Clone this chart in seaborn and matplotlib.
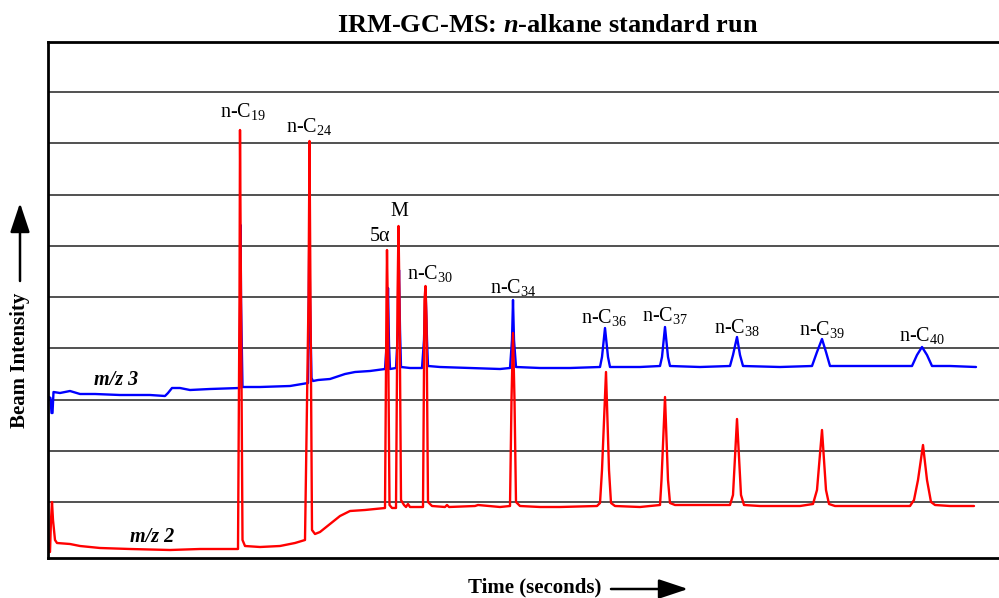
import numpy as np
import pandas as pd
import matplotlib
matplotlib.use("Agg")
import matplotlib.pyplot as plt
import seaborn as sns

# ---------------- data (time in arbitrary units, intensity in arbitrary units) -------------
red_time = [49, 50, 51, 52, 53, 55, 57, 70, 80, 100, 130, 170, 200, 238, 239.5, 240, 241, 242.5,
            245, 260, 280, 295, 305, 308.5, 309.5, 310.5, 312, 315, 320, 330, 340, 350, 365, 385,
            386.5, 387, 388, 389.5, 392, 396, 397.5, 398.5, 399.5, 401, 404, 406, 408, 410, 415,
            423, 424.5, 425.5, 426.5, 428, 432, 445, 447, 449, 475, 478, 500, 510, 511.5, 513,
            514.5, 516, 520, 540, 560, 597, 600, 602, 606, 609, 611, 615, 640, 660, 661.5, 665,
            668, 670, 675, 700, 730, 733, 737, 741, 744, 760, 800, 813, 817, 822, 826, 829, 835,
            870, 910, 914, 918, 923, 927, 931, 935, 950, 974]
red_int = [6, 6, 38, 56, 38, 18, 15, 14, 12, 10, 9, 8, 9, 9, 258, 428, 258, 18,
           12, 11, 12, 15, 18, 258, 417, 258, 28, 24, 26, 34, 42, 47, 48, 50,
           258, 308, 238, 53, 50, 50, 258, 332, 258, 58, 53, 51, 54, 51, 51,
           51, 258, 272, 238, 56, 52, 51, 53, 51, 52, 53, 51, 52, 158, 225,
           158, 56, 52, 51, 51, 52, 55, 88, 186, 88, 55, 52, 51, 53, 78, 161,
           78, 55, 53, 53, 53, 63, 139, 63, 53, 52, 52, 54, 68, 128, 68, 54, 52,
           52, 52, 58, 78, 113, 78, 56, 53, 52, 52]

blue_time = [49, 50.5, 51.5, 52.5, 53.5, 60, 70, 80, 95, 120, 150, 165, 168, 172, 180, 190, 210,
             239.5, 240.2, 240.6, 241, 242.5, 260, 290, 308, 308.8, 309.4, 310, 311.5, 313, 318, 330,
             345, 355, 370, 385, 387, 388, 389, 390, 396, 398, 399, 400, 401, 410, 422, 424,
             425.5, 427, 428, 440, 470, 500, 510, 512, 513, 514, 516, 540, 570, 600, 602, 605,
             608, 610, 640, 660, 662, 665, 668, 670, 700, 730, 733, 737, 740, 743, 780, 812,
             817, 822, 826, 830, 870, 912, 917, 922, 927, 932, 950, 976]
blue_int = [161, 160, 145, 145, 166, 165, 167, 164, 164, 163, 163, 162, 165, 170, 170, 168, 169,
            170, 258, 333, 258, 171, 171, 172, 175, 258, 340, 258, 180, 177, 178, 179,
            184, 186, 187, 189, 218, 270, 213, 189, 190, 228, 288, 228, 191, 190, 190, 218,
            271, 218, 192, 191, 190, 189, 190, 218, 258, 218, 191, 190, 190, 191, 201, 230,
            201, 191, 191, 192, 201, 231, 201, 192, 191, 192, 203, 221, 203, 192, 191, 192,
            206, 219, 206, 192, 192, 192, 203, 211, 203, 192, 192, 191]

peak_labels = ["n-C$_{\\mathrm{19}}$", "n-C$_{\\mathrm{24}}$", "M", "5\u03b1", "n-C$_{\\mathrm{30}}$",
               "n-C$_{\\mathrm{34}}$", "n-C$_{\\mathrm{36}}$", "n-C$_{\\mathrm{37}}$",
               "n-C$_{\\mathrm{38}}$", "n-C$_{\\mathrm{39}}$", "n-C$_{\\mathrm{40}}$"]
label_time = [243, 309, 399, 380, 430, 513, 604, 665, 737, 822, 922]
label_int = [441, 426, 342, 317, 279, 265, 235, 237, 225, 223, 217]

trace_names = ["m/z 2", "m/z 3"]
trace_label_time = [152, 116]
trace_label_int = [16, 173]

# ---------------- styling -----------------
sns.set_theme(style="white")
plt.rcParams["font.family"] = ["Liberation Serif", "DejaVu Serif"]
plt.rcParams["mathtext.fontset"] = "custom"
plt.rcParams["mathtext.rm"] = "Liberation Serif"
plt.rcParams["mathtext.it"] = "Liberation Serif:bold:italic"
plt.rcParams["mathtext.bf"] = "Liberation Serif:bold"
plt.rcParams["text.color"] = "black"

df = pd.concat([
    pd.DataFrame({"time": red_time, "intensity": red_int, "trace": "m/z 2"}),
    pd.DataFrame({"time": blue_time, "intensity": blue_int, "trace": "m/z 3"}),
])

W, H = 999, 598
fig = plt.figure(figsize=(W / 100, H / 100), dpi=100)
ax = fig.add_axes([48 / W, (H - 558) / H, (1003 - 48) / W, (558 - 42) / H])

sns.lineplot(data=df[df.trace == "m/z 3"], x="time", y="intensity", color="#0000ff",
             lw=1.7, estimator=None, sort=False, ax=ax, legend=False)
sns.lineplot(data=df[df.trace == "m/z 2"], x="time", y="intensity", color="#ff0000",
             lw=1.7, estimator=None, sort=False, ax=ax, legend=False)

ax.set_xlim(48, 1003)
ax.set_ylim(0, 516)
ax.set_yticks(np.linspace(56, 466, 9))
ax.set_xticks([])
ax.grid(axis="y", color="#222222", lw=1.1)
ax.grid(axis="x", visible=False)
ax.set_axisbelow(True)
ax.tick_params(length=0, labelleft=False, labelbottom=False)
ax.set_xlabel("")
ax.set_ylabel("")
for s in ["left", "top", "bottom"]:
    ax.spines[s].set_visible(True)
    ax.spines[s].set_color("black")
    ax.spines[s].set_linewidth(2)
ax.spines["right"].set_visible(False)

for t, x, y in zip(peak_labels, label_time, label_int):
    ax.text(x, y, t, ha="center", va="baseline", fontsize=14.5, color="black")

for t, x, y in zip(trace_names, trace_label_time, trace_label_int):
    ax.text(x, y, t, ha="center", va="baseline", fontsize=14.5, fontweight="bold",
            fontstyle="italic", color="black")

fig.text(548 / W, 1 - 32 / H, "IRM-GC-MS: $n$-alkane standard run", ha="center",
         va="baseline", fontsize=19, fontweight="bold", color="black")

fig.text(20 / W, 1 - 360 / H, "Beam Intensity", rotation=90, ha="center", va="center",
         fontsize=15, fontweight="bold", color="black")
fig.text(535 / W, 1 - 587 / H, "Time (seconds)", ha="center", va="center",
         fontsize=15, fontweight="bold", color="black")

arrow = dict(arrowstyle="-|>,head_length=0.9,head_width=0.3", color="black", lw=1.8,
             mutation_scale=20, shrinkA=0, shrinkB=0)
fig.add_artist(matplotlib.patches.FancyArrowPatch((20 / W, 1 - 281 / H), (20 / W, 1 - 203 / H),
               transform=fig.transFigure, **arrow))
fig.add_artist(matplotlib.patches.FancyArrowPatch((611 / W, 1 - 589 / H), (688 / W, 1 - 589 / H),
               transform=fig.transFigure, **arrow))

fig.savefig("out.png", dpi=100)
